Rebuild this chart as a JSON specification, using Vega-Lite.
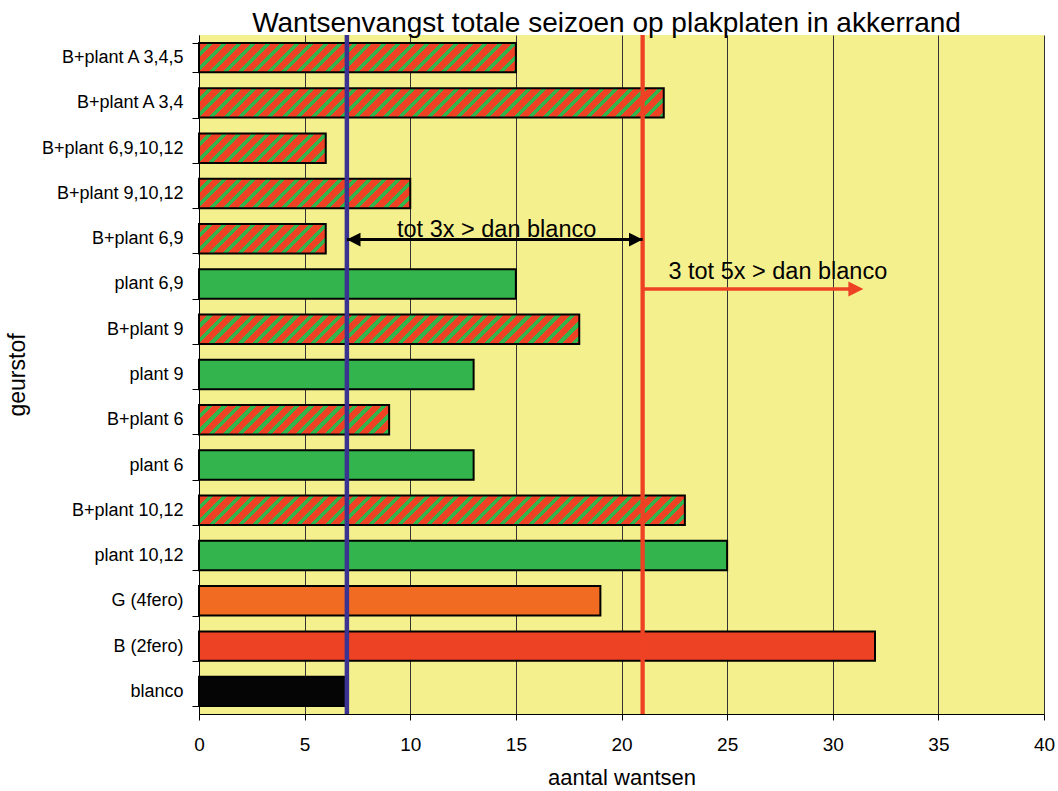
{
  "$schema": "https://vega.github.io/schema/vega-lite/v6.json",
  "width": 845,
  "height": 679,
  "autosize": {"type": "none"},
  "padding": {"left": 199, "top": 35, "right": 14, "bottom": 77},
  "background": "white",
  "config": {
    "view": {"fill": "#F5F08E", "stroke": null},
    "font": "Liberation Sans"
  },
  "title": {
    "text": "Wantsenvangst totale seizoen op plakplaten in akkerrand",
    "fontSize": 28,
    "fontWeight": "normal",
    "font": "Liberation Sans",
    "color": "black",
    "anchor": "middle",
    "baseline": "alphabetic",
    "offset": -34,
    "dx": -15
  },
  "params": [
    {
      "name": "hatch",
      "value": [
        {"offset":0,"color":"#EE4224"},{"offset":0.013,"color":"#EE4224"},{"offset":0.013,"color":"#33B44C"},{"offset":0.02,"color":"#33B44C"},
        {"offset":0.02,"color":"#EE4224"},{"offset":0.033,"color":"#EE4224"},{"offset":0.033,"color":"#33B44C"},{"offset":0.04,"color":"#33B44C"},
        {"offset":0.04,"color":"#EE4224"},{"offset":0.053,"color":"#EE4224"},{"offset":0.053,"color":"#33B44C"},{"offset":0.06,"color":"#33B44C"},
        {"offset":0.06,"color":"#EE4224"},{"offset":0.073,"color":"#EE4224"},{"offset":0.073,"color":"#33B44C"},{"offset":0.08,"color":"#33B44C"},
        {"offset":0.08,"color":"#EE4224"},{"offset":0.093,"color":"#EE4224"},{"offset":0.093,"color":"#33B44C"},{"offset":0.1,"color":"#33B44C"},
        {"offset":0.1,"color":"#EE4224"},{"offset":0.113,"color":"#EE4224"},{"offset":0.113,"color":"#33B44C"},{"offset":0.12,"color":"#33B44C"},
        {"offset":0.12,"color":"#EE4224"},{"offset":0.133,"color":"#EE4224"},{"offset":0.133,"color":"#33B44C"},{"offset":0.14,"color":"#33B44C"},
        {"offset":0.14,"color":"#EE4224"},{"offset":0.153,"color":"#EE4224"},{"offset":0.153,"color":"#33B44C"},{"offset":0.16,"color":"#33B44C"},
        {"offset":0.16,"color":"#EE4224"},{"offset":0.173,"color":"#EE4224"},{"offset":0.173,"color":"#33B44C"},{"offset":0.18,"color":"#33B44C"},
        {"offset":0.18,"color":"#EE4224"},{"offset":0.193,"color":"#EE4224"},{"offset":0.193,"color":"#33B44C"},{"offset":0.2,"color":"#33B44C"},
        {"offset":0.2,"color":"#EE4224"},{"offset":0.213,"color":"#EE4224"},{"offset":0.213,"color":"#33B44C"},{"offset":0.22,"color":"#33B44C"},
        {"offset":0.22,"color":"#EE4224"},{"offset":0.233,"color":"#EE4224"},{"offset":0.233,"color":"#33B44C"},{"offset":0.24,"color":"#33B44C"},
        {"offset":0.24,"color":"#EE4224"},{"offset":0.253,"color":"#EE4224"},{"offset":0.253,"color":"#33B44C"},{"offset":0.26,"color":"#33B44C"},
        {"offset":0.26,"color":"#EE4224"},{"offset":0.273,"color":"#EE4224"},{"offset":0.273,"color":"#33B44C"},{"offset":0.28,"color":"#33B44C"},
        {"offset":0.28,"color":"#EE4224"},{"offset":0.293,"color":"#EE4224"},{"offset":0.293,"color":"#33B44C"},{"offset":0.3,"color":"#33B44C"},
        {"offset":0.3,"color":"#EE4224"},{"offset":0.313,"color":"#EE4224"},{"offset":0.313,"color":"#33B44C"},{"offset":0.32,"color":"#33B44C"},
        {"offset":0.32,"color":"#EE4224"},{"offset":0.333,"color":"#EE4224"},{"offset":0.333,"color":"#33B44C"},{"offset":0.34,"color":"#33B44C"},
        {"offset":0.34,"color":"#EE4224"},{"offset":0.353,"color":"#EE4224"},{"offset":0.353,"color":"#33B44C"},{"offset":0.36,"color":"#33B44C"},
        {"offset":0.36,"color":"#EE4224"},{"offset":0.373,"color":"#EE4224"},{"offset":0.373,"color":"#33B44C"},{"offset":0.38,"color":"#33B44C"},
        {"offset":0.38,"color":"#EE4224"},{"offset":0.393,"color":"#EE4224"},{"offset":0.393,"color":"#33B44C"},{"offset":0.4,"color":"#33B44C"},
        {"offset":0.4,"color":"#EE4224"},{"offset":0.413,"color":"#EE4224"},{"offset":0.413,"color":"#33B44C"},{"offset":0.42,"color":"#33B44C"},
        {"offset":0.42,"color":"#EE4224"},{"offset":0.433,"color":"#EE4224"},{"offset":0.433,"color":"#33B44C"},{"offset":0.44,"color":"#33B44C"},
        {"offset":0.44,"color":"#EE4224"},{"offset":0.453,"color":"#EE4224"},{"offset":0.453,"color":"#33B44C"},{"offset":0.46,"color":"#33B44C"},
        {"offset":0.46,"color":"#EE4224"},{"offset":0.473,"color":"#EE4224"},{"offset":0.473,"color":"#33B44C"},{"offset":0.48,"color":"#33B44C"},
        {"offset":0.48,"color":"#EE4224"},{"offset":0.493,"color":"#EE4224"},{"offset":0.493,"color":"#33B44C"},{"offset":0.5,"color":"#33B44C"},
        {"offset":0.5,"color":"#EE4224"},{"offset":0.513,"color":"#EE4224"},{"offset":0.513,"color":"#33B44C"},{"offset":0.52,"color":"#33B44C"},
        {"offset":0.52,"color":"#EE4224"},{"offset":0.533,"color":"#EE4224"},{"offset":0.533,"color":"#33B44C"},{"offset":0.54,"color":"#33B44C"},
        {"offset":0.54,"color":"#EE4224"},{"offset":0.553,"color":"#EE4224"},{"offset":0.553,"color":"#33B44C"},{"offset":0.56,"color":"#33B44C"},
        {"offset":0.56,"color":"#EE4224"},{"offset":0.573,"color":"#EE4224"},{"offset":0.573,"color":"#33B44C"},{"offset":0.58,"color":"#33B44C"},
        {"offset":0.58,"color":"#EE4224"},{"offset":0.593,"color":"#EE4224"},{"offset":0.593,"color":"#33B44C"},{"offset":0.6,"color":"#33B44C"},
        {"offset":0.6,"color":"#EE4224"},{"offset":0.613,"color":"#EE4224"},{"offset":0.613,"color":"#33B44C"},{"offset":0.62,"color":"#33B44C"},
        {"offset":0.62,"color":"#EE4224"},{"offset":0.633,"color":"#EE4224"},{"offset":0.633,"color":"#33B44C"},{"offset":0.64,"color":"#33B44C"},
        {"offset":0.64,"color":"#EE4224"},{"offset":0.653,"color":"#EE4224"},{"offset":0.653,"color":"#33B44C"},{"offset":0.66,"color":"#33B44C"},
        {"offset":0.66,"color":"#EE4224"},{"offset":0.673,"color":"#EE4224"},{"offset":0.673,"color":"#33B44C"},{"offset":0.68,"color":"#33B44C"},
        {"offset":0.68,"color":"#EE4224"},{"offset":0.693,"color":"#EE4224"},{"offset":0.693,"color":"#33B44C"},{"offset":0.7,"color":"#33B44C"},
        {"offset":0.7,"color":"#EE4224"},{"offset":0.713,"color":"#EE4224"},{"offset":0.713,"color":"#33B44C"},{"offset":0.72,"color":"#33B44C"},
        {"offset":0.72,"color":"#EE4224"},{"offset":0.733,"color":"#EE4224"},{"offset":0.733,"color":"#33B44C"},{"offset":0.74,"color":"#33B44C"},
        {"offset":0.74,"color":"#EE4224"},{"offset":0.753,"color":"#EE4224"},{"offset":0.753,"color":"#33B44C"},{"offset":0.76,"color":"#33B44C"},
        {"offset":0.76,"color":"#EE4224"},{"offset":0.773,"color":"#EE4224"},{"offset":0.773,"color":"#33B44C"},{"offset":0.78,"color":"#33B44C"},
        {"offset":0.78,"color":"#EE4224"},{"offset":0.793,"color":"#EE4224"},{"offset":0.793,"color":"#33B44C"},{"offset":0.8,"color":"#33B44C"},
        {"offset":0.8,"color":"#EE4224"},{"offset":0.813,"color":"#EE4224"},{"offset":0.813,"color":"#33B44C"},{"offset":0.82,"color":"#33B44C"},
        {"offset":0.82,"color":"#EE4224"},{"offset":0.833,"color":"#EE4224"},{"offset":0.833,"color":"#33B44C"},{"offset":0.84,"color":"#33B44C"},
        {"offset":0.84,"color":"#EE4224"},{"offset":0.853,"color":"#EE4224"},{"offset":0.853,"color":"#33B44C"},{"offset":0.86,"color":"#33B44C"},
        {"offset":0.86,"color":"#EE4224"},{"offset":0.873,"color":"#EE4224"},{"offset":0.873,"color":"#33B44C"},{"offset":0.88,"color":"#33B44C"},
        {"offset":0.88,"color":"#EE4224"},{"offset":0.893,"color":"#EE4224"},{"offset":0.893,"color":"#33B44C"},{"offset":0.9,"color":"#33B44C"},
        {"offset":0.9,"color":"#EE4224"},{"offset":0.913,"color":"#EE4224"},{"offset":0.913,"color":"#33B44C"},{"offset":0.92,"color":"#33B44C"},
        {"offset":0.92,"color":"#EE4224"},{"offset":0.933,"color":"#EE4224"},{"offset":0.933,"color":"#33B44C"},{"offset":0.94,"color":"#33B44C"},
        {"offset":0.94,"color":"#EE4224"},{"offset":0.953,"color":"#EE4224"},{"offset":0.953,"color":"#33B44C"},{"offset":0.96,"color":"#33B44C"},
        {"offset":0.96,"color":"#EE4224"},{"offset":0.973,"color":"#EE4224"},{"offset":0.973,"color":"#33B44C"},{"offset":0.98,"color":"#33B44C"},
        {"offset":0.98,"color":"#EE4224"},{"offset":0.993,"color":"#EE4224"},{"offset":0.993,"color":"#33B44C"},{"offset":1,"color":"#33B44C"}
      ]
    }
  ],
  "data": {
    "values": [
      {"geurstof": "B+plant A 3,4,5", "aantal": 15, "groep": "B+plant"},
      {"geurstof": "B+plant A 3,4", "aantal": 22, "groep": "B+plant"},
      {"geurstof": "B+plant 6,9,10,12", "aantal": 6, "groep": "B+plant"},
      {"geurstof": "B+plant 9,10,12", "aantal": 10, "groep": "B+plant"},
      {"geurstof": "B+plant 6,9", "aantal": 6, "groep": "B+plant"},
      {"geurstof": "plant 6,9", "aantal": 15, "groep": "plant"},
      {"geurstof": "B+plant 9", "aantal": 18, "groep": "B+plant"},
      {"geurstof": "plant 9", "aantal": 13, "groep": "plant"},
      {"geurstof": "B+plant 6", "aantal": 9, "groep": "B+plant"},
      {"geurstof": "plant 6", "aantal": 13, "groep": "plant"},
      {"geurstof": "B+plant 10,12", "aantal": 23, "groep": "B+plant"},
      {"geurstof": "plant 10,12", "aantal": 25, "groep": "plant"},
      {"geurstof": "G (4fero)", "aantal": 19, "groep": "G"},
      {"geurstof": "B (2fero)", "aantal": 32, "groep": "B"},
      {"geurstof": "blanco", "aantal": 7, "groep": "blanco"}
    ]
  },
  "layer": [
    {
      "transform": [{"filter": "datum.groep !== 'B+plant'"}],
      "mark": {"type": "bar", "stroke": "black", "strokeWidth": 2},
      "encoding": {
        "y": {
          "field": "geurstof",
          "type": "nominal",
          "sort": null,
          "scale": {
            "domain": ["B+plant A 3,4,5", "B+plant A 3,4", "B+plant 6,9,10,12", "B+plant 9,10,12", "B+plant 6,9", "plant 6,9", "B+plant 9", "plant 9", "B+plant 6", "plant 6", "B+plant 10,12", "plant 10,12", "G (4fero)", "B (2fero)", "blanco"],
            "paddingInner": 0.35,
            "paddingOuter": 0.175
          },
          "axis": {
            "title": "geurstof",
            "titleFontSize": 23,
            "titleFontWeight": "normal",
            "titleColor": "black",
            "titleFont": "Liberation Sans",
            "titlePadding": 12,
            "labelFont": "Liberation Sans",
            "labelFontSize": 18,
            "labelColor": "black",
            "labelPadding": 9,
            "labelLimit": 400,
            "tickSize": 7,
            "tickColor": "black",
            "tickBand": "extent",
            "domainColor": "black",
            "grid": false
          }
        },
        "x": {
          "field": "aantal",
          "type": "quantitative",
          "stack": null,
          "scale": {"domain": [0, 40], "nice": false},
          "axis": {
            "title": "aantal wantsen",
            "values": [0, 5, 10, 15, 20, 25, 30, 35, 40],
            "titleFontSize": 22,
            "titleFontWeight": "normal",
            "titleColor": "black",
            "titleFont": "Liberation Sans",
            "titlePadding": 13,
            "labelFont": "Liberation Sans",
            "labelFontSize": 19,
            "labelColor": "black",
            "labelPadding": 15,
            "labelFlush": false,
            "tickSize": 6,
            "tickColor": "black",
            "domainColor": "black",
            "grid": true,
            "gridColor": "#333333",
            "gridWidth": 1,
            "gridOpacity": 1
          }
        },
        "fill": {
          "field": "groep",
          "type": "nominal",
          "scale": {"domain": ["plant", "G", "B", "blanco"], "range": ["#33B44C", "#F26B22", "#EE4224", "#050505"]},
          "legend": null
        }
      }
    },
    {
      "transform": [{"filter": "datum.groep === 'B+plant'"}],
      "mark": {"type": "bar", "stroke": "black", "strokeWidth": 2},
      "encoding": {
        "y": {"field": "geurstof", "type": "nominal", "sort": null},
        "x": {"field": "aantal", "type": "quantitative", "stack": null},
        "fill": {"value": {"expr": "{gradient: 'linear', x1: 0, y1: 0, x2: 725 * scale('x', datum.aantal) / (pow(scale('x', datum.aantal), 2) + pow(bandwidth('y'), 2)), y2: 725 * bandwidth('y') / (pow(scale('x', datum.aantal), 2) + pow(bandwidth('y'), 2)), stops: hatch}"}}
      }
    },
    {
      "data": {"values": [{"grens": 7}]},
      "mark": {"type": "rule", "color": "#3A3392", "strokeWidth": 4.5},
      "encoding": {"x": {"field": "grens", "type": "quantitative"}}
    },
    {
      "data": {"values": [{"grens": 21}]},
      "mark": {"type": "rule", "color": "#EE4224", "strokeWidth": 4.3},
      "encoding": {"x": {"field": "grens", "type": "quantitative"}}
    },
    {
      "data": {"values": [{}]},
      "mark": {"type": "rule", "color": "black", "strokeWidth": 3},
      "encoding": {
        "x": {"datum": 7},
        "x2": {"datum": 21},
        "y": {"datum": "B+plant 6,9", "bandPosition": 0.53}
      }
    },
    {
      "data": {"values": [{}]},
      "mark": {"type": "point", "shape": "M0,0L1,-0.5L1,0.5Z", "filled": true, "size": 740, "color": "black", "opacity": 1},
      "encoding": {
        "x": {"datum": 7},
        "y": {"datum": "B+plant 6,9", "bandPosition": 0.53}
      }
    },
    {
      "data": {"values": [{}]},
      "mark": {"type": "point", "shape": "M0,0L-1,-0.5L-1,0.5Z", "filled": true, "size": 740, "color": "black", "opacity": 1},
      "encoding": {
        "x": {"datum": 21},
        "y": {"datum": "B+plant 6,9", "bandPosition": 0.53}
      }
    },
    {
      "data": {"values": [{}]},
      "mark": {"type": "rule", "color": "#EE4224", "strokeWidth": 3.5},
      "encoding": {
        "x": {"datum": 21},
        "x2": {"datum": 31},
        "y": {"datum": "plant 6,9", "bandPosition": 0.67}
      }
    },
    {
      "data": {"values": [{}]},
      "mark": {"type": "point", "shape": "M0,0L-1,-0.5L-1,0.5Z", "filled": true, "size": 900, "color": "#EE4224", "opacity": 1},
      "encoding": {
        "x": {"datum": 31.45},
        "y": {"datum": "plant 6,9", "bandPosition": 0.67}
      }
    },
    {
      "data": {"values": [{}]},
      "mark": {"type": "text", "align": "center", "baseline": "alphabetic", "fontSize": 23.5, "font": "Liberation Sans", "color": "black"},
      "encoding": {
        "x": {"datum": 14.09},
        "y": {"datum": "B+plant 6,9", "bandPosition": 0.455},
        "text": {"value": "tot 3x > dan blanco"}
      }
    },
    {
      "data": {"values": [{}]},
      "mark": {"type": "text", "align": "center", "baseline": "alphabetic", "fontSize": 23.5, "font": "Liberation Sans", "color": "black"},
      "encoding": {
        "x": {"datum": 27.4},
        "y": {"datum": "plant 6,9", "bandPosition": 0.32},
        "text": {"value": "3 tot 5x > dan blanco"}
      }
    }
  ]
}
